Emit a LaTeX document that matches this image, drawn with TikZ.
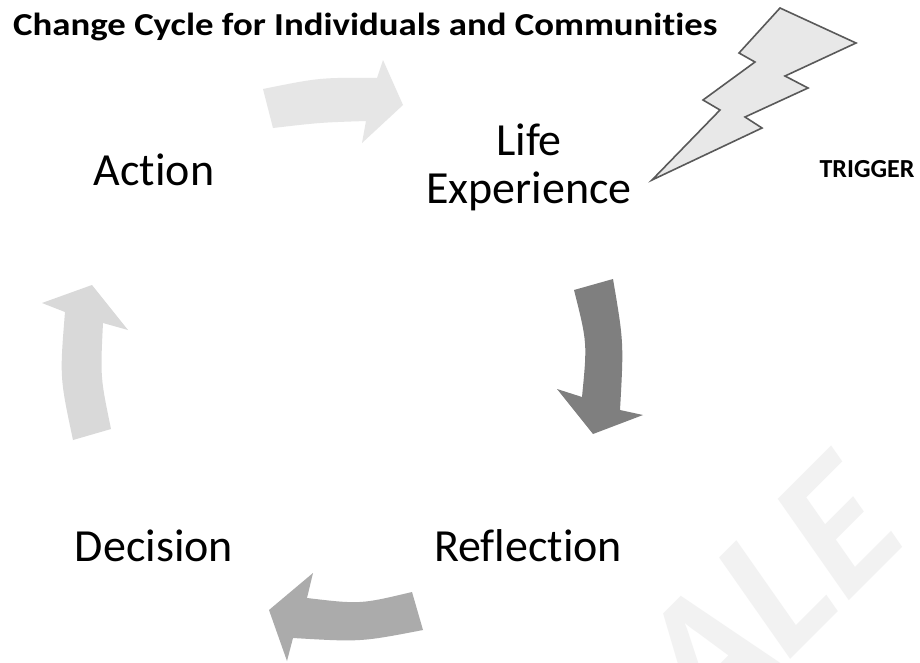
\documentclass[tikz,border=0pt]{standalone}
\usepackage{fontspec}
\setmainfont{Carlito}[Ligatures={NoCommon}]
\definecolor{arrtop}{HTML}{E6E6E6}
\definecolor{arrright}{HTML}{7F7F7F}
\definecolor{arrbottom}{HTML}{ABABAB}
\definecolor{arrleft}{HTML}{D9D9D9}
\definecolor{boltfill}{HTML}{E8E8E8}
\definecolor{boltline}{HTML}{595959}
\definecolor{wmark}{HTML}{F2F2F2}
\begin{document}
\begin{tikzpicture}[x=1pt,y=-1pt,
  lbl/.style={inner sep=0pt, font=\fontsize{46}{48}\selectfont},
  bolt/.style={fill=boltfill, draw=boltline, line width=1.6pt, line join=miter}]
\useasboundingbox (0,0) rectangle (920,662);
\fill[white] (0,0) rectangle (920,662);
% watermark
\begin{scope}[shift={(702,748)}]
\node[cm={0.707,0.707,-0.574,0.819,(0,0)}, transform shape, anchor=base west,
  inner sep=0pt, text=wmark, font=\bfseries\fontsize{191}{191}\selectfont] (wm) at (0,0) {ALE};
\end{scope}
% title
\begin{scope}[shift={(13,35)}]
\node[xscale=1.15, transform shape, inner sep=0pt, anchor=base west, font=\bfseries\fontsize{32}{32}\selectfont] (title) at (0,0) {Change Cycle for Individuals and Communities};
\end{scope}
% arrows
\fill[arrtop] (263,89) .. controls (320,77.5) .. (377,78) -- (383,60) -- (403,105) -- (362,143) -- (366,121) .. controls (320.2,122.5) .. (273,128) -- cycle;
\fill[arrright] (574,290) -- (613,279) .. controls (623.8,342.5) .. (620,410) -- (643,415) -- (593,434) -- (557,389) -- (582,397) .. controls (587.3,342.8) .. (574,290) -- cycle;
\fill[arrbottom] (412,592) -- (423,630) .. controls (360.7,642) .. (293,638) -- (287,661) -- (269,610) -- (313,573) -- (307,598) .. controls (360.2,604.3) .. (412,592) -- cycle;
\fill[arrleft] (73,440) -- (111,429) .. controls (100.3,377.3) .. (103,323) -- (128,330) -- (92,285) -- (42,303) -- (65,312) .. controls (59.7,377.3) .. (73,440) -- cycle;
% lightning
\draw[bolt] (780,8) -- (856,43) -- (785,76) -- (808,88) -- (745,117) -- (762,128) -- (652,180) -- (720,110) -- (703,100) -- (755,62) -- (739,53) -- cycle;
% labels
\node[lbl, anchor=base] (action) at (154,185) {Action};
\node[lbl, anchor=base, align=center] (life) at (529,203) {Life\\Experience};
\node[lbl, anchor=base] (decision) at (154,561) {Decision};
\node[lbl, anchor=base] (reflection) at (528,561) {Reflection};
\node[inner sep=0pt, anchor=base, font=\bfseries\fontsize{26}{26}\selectfont] (trigger) at (867,177) {TRIGGER};
\end{tikzpicture}
\end{document}
